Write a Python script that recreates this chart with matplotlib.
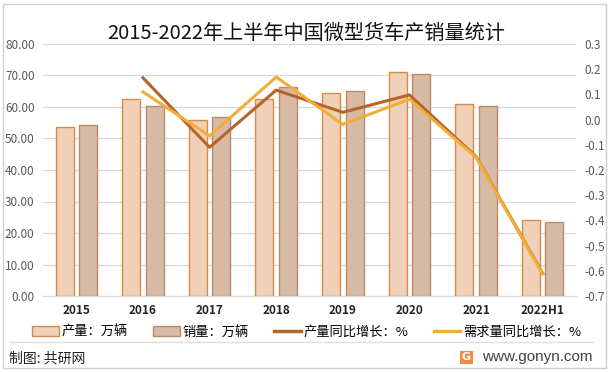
import matplotlib
matplotlib.use("Agg")
import matplotlib.pyplot as plt
import numpy as np
from matplotlib.patches import Patch, Rectangle
from matplotlib.lines import Line2D

plt.rcParams['font.family'] = ['Noto Sans CJK SC', 'DejaVu Sans']

categories = ['2015', '2016', '2017', '2018', '2019', '2020', '2021', '2022H1']
production = [53.6, 62.4, 55.8, 62.4, 64.3, 71.0, 60.9, 24.0]
sales = [54.2, 60.2, 56.7, 66.3, 65.0, 70.4, 60.2, 23.4]
prod_growth = [None, 0.166, -0.11, 0.117, 0.029, 0.098, -0.147, -0.61]
demand_growth = [None, 0.11, -0.065, 0.169, -0.019, 0.081, -0.15, -0.613]

title = '2015-2022年上半年中国微型货车产销量统计'
legend_labels = ['产量：万辆', '销量：万辆', '产量同比增长：%', '需求量同比增长：%']

c_prod_fill, c_prod_edge = '#F0D0B6', '#D98B4C'
c_sales_fill, c_sales_edge = '#D7BAA3', '#B98B6C'
c_line1, c_line2 = '#B5652A', '#F2AE38'

fig = plt.figure(figsize=(6.12, 3.72), dpi=100)
ax = fig.add_axes([43/612, 1-296/372, (576-43)/612, (296-44)/372])
ax2 = ax.twinx()

x = np.arange(len(categories))
bw = 0.27
off = 0.177
ax.bar(x - off, production, bw, color=c_prod_fill, edgecolor=c_prod_edge, linewidth=1.0, zorder=2)
ax.bar(x + off, sales, bw, color=c_sales_fill, edgecolor=c_sales_edge, linewidth=1.0, zorder=2)

ax.set_xlim(-0.5, len(categories) - 0.5)
ax.set_ylim(0, 80)
ax.set_yticks(np.arange(0, 81, 10))
ax.set_yticklabels([f'{v:.2f}' for v in np.arange(0, 81, 10)])
ax.grid(axis='y', color='#D9D9D9', linewidth=0.9, zorder=0)
ax.set_axisbelow(True)
ax.set_xticks(x)
ax.set_xticklabels(categories, fontweight='bold', fontsize=8.5, color='#222222')
ax.tick_params(axis='both', length=0)
ax.tick_params(axis='y', labelsize=8.5, labelcolor='#595959', pad=6)
ax.tick_params(axis='x', pad=6)
for s in ['left', 'right', 'top']:
    ax.spines[s].set_visible(False)
ax.spines['bottom'].set_color('#D9D9D9')

xi = [i for i, v in enumerate(prod_growth) if v is not None]
ax2.plot(xi, [prod_growth[i] for i in xi], color=c_line1, linewidth=2.2, zorder=3)
ax2.plot(xi, [demand_growth[i] for i in xi], color=c_line2, linewidth=2.2, zorder=4)
ax2.set_ylim(-0.7, 0.3)
rt = np.round(np.arange(-0.7, 0.31, 0.1), 1)
ax2.set_yticks(rt)
ax2.set_yticklabels([f'{v:.1f}' if abs(v) > 1e-9 else '0.0' for v in rt])
ax2.tick_params(axis='y', length=0, labelsize=8.5, labelcolor='#595959', pad=6)
for s in ['left', 'right', 'top', 'bottom']:
    ax2.spines[s].set_visible(False)

fig.text(0.5, 1-33/372, title, ha='center', va='center', fontsize=14.5, color='#111111',
         fontweight='light')

handles = [
    Patch(facecolor=c_prod_fill, edgecolor=c_prod_edge, linewidth=1.0),
    Patch(facecolor=c_sales_fill, edgecolor=c_sales_edge, linewidth=1.0),
    Line2D([0], [0], color=c_line1, linewidth=2.5),
    Line2D([0], [0], color=c_line2, linewidth=2.5),
]
fig.legend(handles, legend_labels, loc='center', bbox_to_anchor=(307/612, 1-332/372), ncol=4,
           frameon=False, fontsize=9.5, handlelength=2.0, handleheight=0.7, handletextpad=0.25,
           columnspacing=1.9)

# frame and footer
fig.add_artist(Rectangle((3/612, 1-368/372), 603/612, 364/372, transform=fig.transFigure,
                         fill=False, edgecolor='#D0D0D0', linewidth=1.0))
fig.add_artist(Line2D([10/612, 593/612], [1-342/372, 1-342/372], transform=fig.transFigure,
                      color='#E0E0E0', linewidth=1.0))
fig.text(9/612, 1-358/372, '制图: 共研网', ha='left', va='center', fontsize=10, color='#222222')
fig.add_artist(Rectangle((460/612, 1-364/372), 13/612, 13/372, transform=fig.transFigure,
                         facecolor='#F08A4B', edgecolor='none'))
fig.text(466.5/612, 1-357.5/372, 'G', ha='center', va='center', fontsize=8, color='white',
         fontweight='bold', family='DejaVu Sans')
fig.text(482/612, 1-357/372, 'www.gonyn.com', ha='left', va='center', fontsize=11,
         color='#404040', family='Liberation Sans')

fig.savefig('out.png', dpi=100)
